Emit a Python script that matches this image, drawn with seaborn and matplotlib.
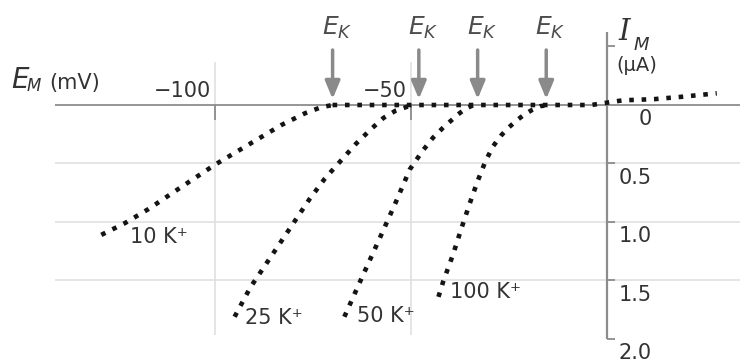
import matplotlib
matplotlib.use('Agg')
import matplotlib.pyplot as plt
import seaborn as sns

sns.set_style('white')
plt.rcParams['font.family'] = ['DejaVu Sans']
plt.rcParams['mathtext.fontset'] = 'dejavusans'

# I-V curves (membrane potential in mV, current in uA, inward = positive/down)
k10_mv = [-129, -123, -117, -109, -100, -91, -83, -77, -73, -70]
k10_ua = [1.11, 1.01, 0.89, 0.71, 0.51, 0.33, 0.17, 0.07, 0.02, 0.0]

k25_mv = [-95, -91, -86, -81, -76, -72, -68, -64, -60, -57, -54, -51, -49]
k25_ua = [1.81, 1.56, 1.31, 1.06, 0.81, 0.63, 0.48, 0.33, 0.20, 0.11, 0.05, 0.015, 0.0]

k50_mv = [-67, -63, -58, -54, -50.3, -47, -44.4, -42, -40, -38, -36, -34]
k50_ua = [1.81, 1.51, 1.14, 0.84, 0.55, 0.39, 0.28, 0.20, 0.14, 0.08, 0.03, 0.0]

k100_mv = [-43, -41.8, -39.3, -37, -35, -33, -31, -29, -27, -25, -23, -21, -19, -17, -15]
k100_ua = [1.64, 1.51, 1.28, 1.04, 0.84, 0.65, 0.48, 0.35, 0.26, 0.19, 0.13, 0.08, 0.04, 0.01, 0.0]

# shared outward part to the right of E_K
out_mv = [-70, -4, 0, 4, 12, 19, 25, 28]
out_ua = [0, 0, -0.02, -0.04, -0.05, -0.07, -0.09, -0.10]

curve_labels = ['10 K\u207a', '25 K\u207a', '50 K\u207a', '100 K\u207a']
ek_mv = [-70, -48, -33, -15.5]
xtick_vals = [-100, -50]
xtick_labels = ['\u2212100', '\u221250']
ytick_vals = [0, 0.5, 1.0, 1.5, 2.0]
ytick_labels = ['0', '0.5', '1.0', '1.5', '2.0']


# pixel -> data helpers, only for placing text/furniture
def vx(px):
    return (px - 607) / 3.92


def iy(py):
    return (py - 105) / 117


fig = plt.figure(figsize=(7.4, 3.62), dpi=100)
ax = fig.add_axes([0, 0, 1, 1])
ax.set_xlim(vx(0), vx(740))
ax.set_ylim(iy(362), iy(0))
ax.axis('off')

grid_c = '#dedede'
axis_c = '#8c8c8c'
text_c = '#333333'

# grid
ax.hlines([0.5, 1.0, 1.5], vx(55), vx(740), color=grid_c, lw=1.1)
ax.vlines(xtick_vals, iy(62), iy(335), color=grid_c, lw=1.1)
ax.hlines(0, vx(55), vx(740), color=axis_c, lw=1.3)
ax.vlines(xtick_vals, 0, iy(120), color=axis_c, lw=1.3)

# current axis at 0 mV
ax.vlines(0, iy(32), 2.0, color=axis_c, lw=1.6)
ax.hlines([-0.5] + ytick_vals[1:], 0, vx(615), color=axis_c, lw=1.3)

for v, lab in zip(xtick_vals, xtick_labels):
    ax.text(v - 1, iy(91), lab, ha='right', va='center', fontsize=15, color=text_c)
for val, lab in zip(ytick_vals, ytick_labels):
    ax.text(vx(652), val + 0.12, lab, ha='right', va='center', fontsize=15, color=text_c)

# dotted curves
dots = dict(color='#141414', lw=3.3, linestyle=(0, (1, 1.7)), estimator=None, sort=False, ax=ax)
for xs, ys in [(k10_mv, k10_ua), (k25_mv, k25_ua), (k50_mv, k50_ua),
               (k100_mv, k100_ua), (out_mv, out_ua)]:
    sns.lineplot(x=xs, y=ys, **dots)

label_px = [(130, 237), (245, 318), (357, 316), (450, 292)]
for lab, (px, py) in zip(curve_labels, label_px):
    ax.text(vx(px), iy(py), lab, ha='left', va='center', fontsize=15, color=text_c)

# E_K arrows
for v in ek_mv:
    ax.annotate('', xy=(v, iy(99)), xytext=(v, iy(50)),
                arrowprops=dict(arrowstyle='-|>,head_length=0.6,head_width=0.25',
                                color='#8a8a8a', lw=2.5, shrinkA=0, shrinkB=0,
                                mutation_scale=18))
    ax.text(v + 1.1, iy(35), r'$E_K$', ha='center', va='baseline', fontsize=18, color='#4d4d4d')

# axis titles
ax.text(vx(11), iy(88), 'E', style='italic', fontsize=20, color=text_c, ha='left', va='baseline')
ax.text(vx(27), iy(91), 'M', style='italic', fontsize=12, color=text_c, ha='left', va='baseline')
ax.text(vx(49), iy(89), '(mV)', fontsize=15, color=text_c, ha='left', va='baseline')

ax.text(vx(618), iy(40), 'I', family='DejaVu Serif', style='italic', fontsize=21,
        color=text_c, ha='left', va='baseline')
ax.text(vx(634), iy(50), 'M', style='italic', fontsize=13, color=text_c, ha='left', va='baseline')
ax.text(vx(637), iy(66), '(\u03bcA)', fontsize=14, color=text_c, ha='center', va='center')

fig.savefig('out.png', dpi=100)
